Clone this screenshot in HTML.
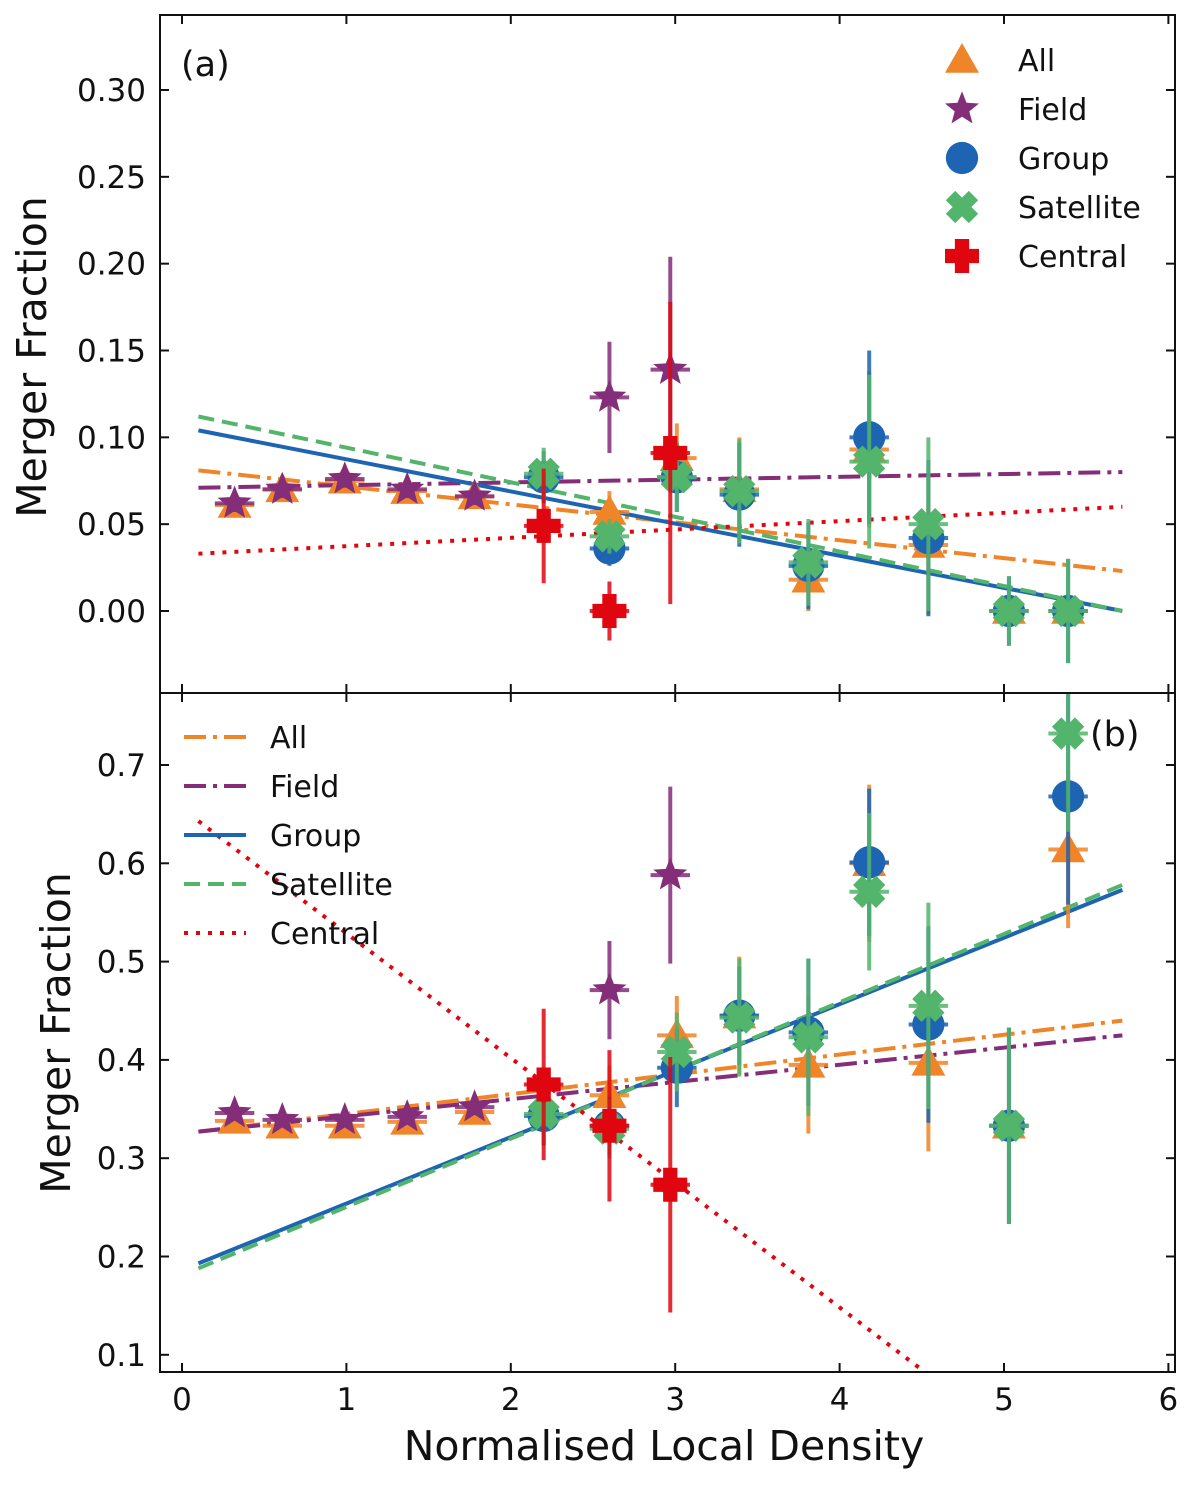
<!DOCTYPE html>
<html><head><meta charset="utf-8"><style>
body{margin:0;background:#fff}
svg text{font-family:"DejaVu Sans","Liberation Sans",sans-serif;fill:#111}
</style></head><body>
<svg id="c" width="1200" height="1482" viewBox="0 0 1200 1482" xmlns="http://www.w3.org/2000/svg"></svg>
<script>
// ---- data ----
const xAll=[0.32,0.61,0.99,1.37,1.78,2.60,3.01,3.39,3.81,4.18,4.54,5.03,5.39];
const xField=[0.32,0.61,0.99,1.37,1.78,2.60,2.97];
const xGrp=[2.20,2.60,3.01,3.39,3.81,4.18,4.54,5.03,5.39];
const xCen=[2.20,2.60,2.97];
// panel a
const aAll=[0.061,0.070,0.075,0.069,0.066,0.057,0.088,0.070,0.018,0.093,0.038,0,0];
const aAllErr=[0.005,0.005,0.005,0.005,0.005,0.012,0.02,0.03,0.018,0.045,0.04,0.008,0.008];
const aField=[0.062,0.070,0.076,0.070,0.066,0.123,0.139];
const aFieldErr=[0.005,0.005,0.005,0.005,0.005,0.032,0.065];
const aGrp=[0.077,0.036,0.077,0.067,0.026,0.100,0.042,0,0];
const aGrpErr=[0.015,0.01,0.02,0.03,0.025,0.05,0.045,0.02,0.03];
const aSat=[0.079,0.043,0.077,0.069,0.028,0.086,0.050,0,0];
const aSatErr=[0.015,0.01,0.02,0.03,0.025,0.05,0.05,0.02,0.03];
const aCen=[0.049,0.0,0.091];
const aCenErr=[0.033,0.017,0.087];
const aFitAll=[0.081,0.023], aFitField=[0.071,0.080], aFitGrp=[0.104,0.0], aFitSat=[0.112,0.0], aFitCen=[0.033,0.060];
// panel b
const bAll=[0.338,0.333,0.333,0.337,0.347,0.364,0.425,0.445,0.395,0.600,0.397,0.333,0.614];
const bAllErr=[0.006,0.006,0.006,0.006,0.006,0.03,0.04,0.06,0.07,0.08,0.09,0.1,0.08];
const bField=[0.346,0.339,0.339,0.342,0.352,0.471,0.588];
const bFieldErr=[0.006,0.006,0.006,0.006,0.006,0.05,0.09];
const bGrp=[0.343,0.333,0.392,0.445,0.428,0.601,0.436,0.333,0.668];
const bGrpErr=[0.03,0.03,0.04,0.05,0.075,0.075,0.1,0.1,0.11];
const bSat=[0.345,0.330,0.408,0.443,0.423,0.571,0.455,0.333,0.732];
const bSatErr=[0.03,0.03,0.04,0.06,0.08,0.08,0.105,0.1,0.1];
const bCen=[0.375,0.333,0.273];
const bCenErr=[0.077,0.077,0.13];
const bFitAll=[0.327,0.440], bFitField=[0.327,0.425], bFitGrp=[0.193,0.573], bFitSat=[0.188,0.578], bFitCen=[0.643,-0.07];
const fitX=[0.1,5.72];
const xTicks=[0,1,2,3,4,5,6];
const aTicks=[0,0.05,0.10,0.15,0.20,0.25,0.30];
const bTicks=[0.1,0.2,0.3,0.4,0.5,0.6,0.7];

const C={all:'#ef8428',field:'#842d78',grp:'#1d64b2',sat:'#52b56b',cen:'#e0060f'};
const NS='http://www.w3.org/2000/svg';
const svg=document.getElementById('c');
const L=160,R=1175;
const sx=v=>182+v*164.4;
const syA=v=>611-v*1736.7;
const syB=v=>765-(v-0.7)*983;
function mk(t,a,p){const e=document.createElementNS(NS,t);for(const k in a)e.setAttribute(k,a[k]);(p||svg).appendChild(e);return e;}
const defs=mk('defs',{});
['a','b'].forEach((id,i)=>{const cp=mk('clipPath',{id:'clip'+id},defs);mk('rect',{x:L,y:i?693:15,width:R-L,height:i?679:678},cp);});
function marker(g,shape,cx,cy,col){
  const s=17;let e;
  if(shape==='tri'){e=mk('polygon',{points:`${cx},${cy-s} ${cx+s},${cy+s*0.75} ${cx-s},${cy+s*0.75}`,fill:col},g);}
  else if(shape==='circ'){e=mk('circle',{cx,cy,r:s*0.95,fill:col},g);}
  else if(shape==='star'){let p=[];for(let k=0;k<10;k++){const r=k%2?s*0.45:s*1.05;const a=-Math.PI/2+k*Math.PI/5;p.push((cx+r*Math.cos(a)).toFixed(1)+','+(cy+r*Math.sin(a)).toFixed(1));}e=mk('polygon',{points:p.join(' '),fill:col},g);}
  else if(shape==='x'){const a=s*0.95,b=s*0.55;e=mk('polygon',{points:`${cx-a},${cy-a+b} ${cx-a+b},${cy-a} ${cx},${cy-b} ${cx+a-b},${cy-a} ${cx+a},${cy-a+b} ${cx+b},${cy} ${cx+a},${cy+a-b} ${cx+a-b},${cy+a} ${cx},${cy+b} ${cx-a+b},${cy+a} ${cx-a},${cy+a-b} ${cx-b},${cy}`,fill:col},g);}
  else if(shape==='plus'){const a=s,b=s*0.42;e=mk('polygon',{points:`${cx-b},${cy-a} ${cx+b},${cy-a} ${cx+b},${cy-b} ${cx+a},${cy-b} ${cx+a},${cy+b} ${cx+b},${cy+b} ${cx+b},${cy+a} ${cx-b},${cy+a} ${cx-b},${cy+b} ${cx-a},${cy+b} ${cx-a},${cy-b} ${cx-b},${cy-b}`,fill:col},g);}
  return e;
}
function series(panel,name,xs,ys,errs,shape,col,sy){
  const g=mk('g',{'clip-path':'url(#clip'+panel+')'});
  
  
  xs.forEach((x,i)=>{
    const px=sx(x),py=sy(ys[i]);
    const eb=mk('line',{x1:px,x2:px,y1:sy(ys[i]-errs[i]),y2:sy(ys[i]+errs[i]),stroke:col,'stroke-width':4,opacity:0.85},g);
    
    
    const hb=mk('line',{x1:sx(x-0.12),x2:sx(x+0.12),y1:py,y2:py,stroke:col,'stroke-width':4,opacity:0.85},g);
    
    
    const m=marker(g,shape,px,py,col);
    
    
  });
}
const dashes={all:'22 7 4 7',field:'22 7 4 7',grp:'',sat:'16 8',cen:'4 8'};
function fit(panel,name,vals,sy){
  const l=mk('line',{x1:sx(fitX[0]),x2:sx(fitX[1]),y1:sy(vals[0]),y2:sy(vals[1]),stroke:C[name],'stroke-width':4,'stroke-dasharray':dashes[name],'clip-path':'url(#clip'+panel+')'});
  
  
}
function axes(panel,top,bot,ticks,sy,fmt,showX){
  const fr=mk('rect',{x:L,y:top,width:R-L,height:bot-top,fill:'none',stroke:'#111','stroke-width':2});
  
  
  ticks.forEach(t=>{const y=sy(t);
    mk('line',{x1:L,x2:L+9,y1:y,y2:y,stroke:'#111','stroke-width':2});
    mk('line',{x1:R-9,x2:R,y1:y,y2:y,stroke:'#111','stroke-width':2});
    const tx=mk('text',{x:L-14,y:y+11,'text-anchor':'end','font-size':31});tx.textContent=fmt(t);
    
    
  });
  xTicks.forEach(t=>{const x=sx(t);
    mk('line',{x1:x,x2:x,y1:bot-9,y2:bot,stroke:'#111','stroke-width':2});
    mk('line',{x1:x,x2:x,y1:top,y2:top+9,stroke:'#111','stroke-width':2});
    if(showX){const tx=mk('text',{x:x,y:bot+38,'text-anchor':'middle','font-size':31});tx.textContent=t;
      
      }
  });
}
// panel a
['all','field','grp','sat','cen'].forEach(n=>fit('a',n,{all:aFitAll,field:aFitField,grp:aFitGrp,sat:aFitSat,cen:aFitCen}[n],syA));
series('a','all',xAll,aAll,aAllErr,'tri',C.all,syA);
series('a','field',xField,aField,aFieldErr,'star',C.field,syA);
series('a','group',xGrp,aGrp,aGrpErr,'circ',C.grp,syA);
series('a','satellite',xGrp,aSat,aSatErr,'x',C.sat,syA);
series('a','central',xCen,aCen,aCenErr,'plus',C.cen,syA);
axes('a',15,693,aTicks,syA,v=>v.toFixed(2),false);
// panel b
['all','field','grp','sat','cen'].forEach(n=>fit('b',n,{all:bFitAll,field:bFitField,grp:bFitGrp,sat:bFitSat,cen:bFitCen}[n],syB));
series('b','all',xAll,bAll,bAllErr,'tri',C.all,syB);
series('b','field',xField,bField,bFieldErr,'star',C.field,syB);
series('b','group',xGrp,bGrp,bGrpErr,'circ',C.grp,syB);
series('b','satellite',xGrp,bSat,bSatErr,'x',C.sat,syB);
series('b','central',xCen,bCen,bCenErr,'plus',C.cen,syB);
axes('b',693,1372,bTicks,syB,v=>v.toFixed(1),true);
// legends
const names=['All','Field','Group','Satellite','Central'];
const keys=['all','field','grp','sat','cen'];
const shapes=['tri','star','circ','x','plus'];
const lgA=mk('g',{});
names.forEach((n,i)=>{const y=60+i*49;marker(lgA,shapes[i],962,y,C[keys[i]]);
  const t=mk('text',{x:1018,y:y+11,'font-size':30},lgA);t.textContent=n;
  });
const lgB=mk('g',{});
names.forEach((n,i)=>{const y=737+i*49;
  mk('line',{x1:184,x2:246,y1:y,y2:y,stroke:C[keys[i]],'stroke-width':4,'stroke-dasharray':dashes[keys[i]]},lgB);
  const t=mk('text',{x:270,y:y+11,'font-size':30},lgB);t.textContent=n;
  });
function txt(s,a,name){const t=mk('text',a);t.textContent=s;return t;}
txt('(a)',{x:181,y:76,'font-size':35},'panel-a-label');
txt('(b)',{x:1090,y:746,'font-size':35},'panel-b-label');
txt('Merger Fraction',{x:0,y:0,'font-size':41,'text-anchor':'middle',transform:'translate(46,357) rotate(-90)'},'y-axis-title-a');
txt('Merger Fraction',{x:0,y:0,'font-size':41,'text-anchor':'middle',transform:'translate(70,1033) rotate(-90)'},'y-axis-title-b');
txt('Normalised Local Density',{x:664,y:1460,'font-size':41,'text-anchor':'middle'},'x-axis-title');
</script>
</body></html>
